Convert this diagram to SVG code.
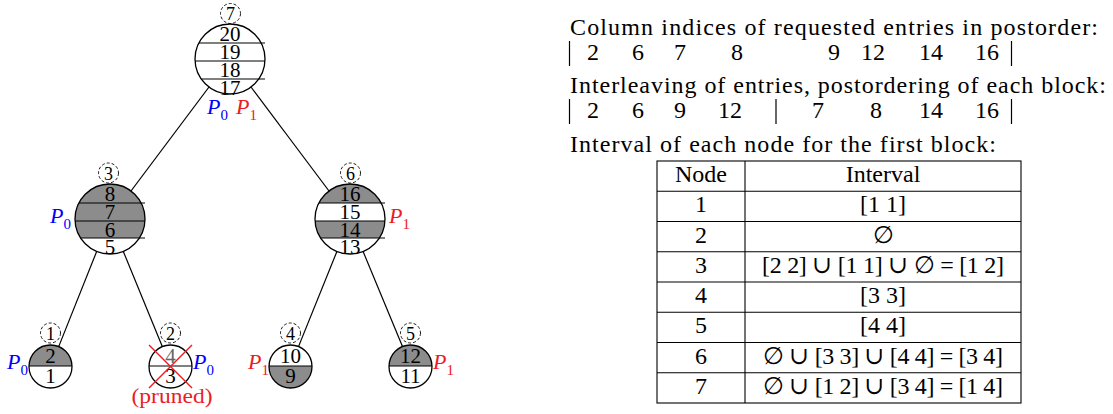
<svg xmlns="http://www.w3.org/2000/svg" width="1113" height="414" viewBox="0 0 1113 414" font-family="'Liberation Serif', 'Times New Roman', 'DejaVu Serif', serif">
<style>
text{font-family:'Liberation Serif','Times New Roman','DejaVu Serif',serif;fill:#000}
.d{font-size:21px;text-anchor:middle}
.lab{font-size:18px;text-anchor:middle}
.dash{fill:none;stroke:#000;stroke-width:0.9;stroke-dasharray:3 2}
.c{fill:none;stroke:#000;stroke-width:1.3}
.ln{stroke:#000;stroke-width:1.2}
.g{fill:#8c8c8c}
.P{font-size:22px;font-style:italic}
.sub{font-size:15px;font-style:normal}
.blue{fill:#0000ff}
.red{fill:#ec1c24}
.edge{stroke:#000;stroke-width:1.2}
.t{font-size:24px}
.tm{font-size:24px;text-anchor:middle}
.bar{stroke:#000;stroke-width:1.2}
.tb{stroke:#000;stroke-width:1.1;fill:none}
</style>
<defs>
<clipPath id="c3"><circle cx="110" cy="219" r="35"/></clipPath>
<clipPath id="c6"><circle cx="350" cy="219" r="35"/></clipPath>
<clipPath id="c1"><circle cx="50.5" cy="366.5" r="21.5"/></clipPath>
<clipPath id="c4"><circle cx="290.5" cy="366.5" r="21.5"/></clipPath>
<clipPath id="c5"><circle cx="410.5" cy="366.5" r="21.5"/></clipPath>
</defs>

<g id="connectors">
<line class="edge" x1="209" y1="87" x2="131" y2="191"/>
<line class="edge" x1="251" y1="87" x2="329" y2="191"/>
<line class="edge" x1="96.7" y1="251.4" x2="58.7" y2="346.6"/>
<line class="edge" x1="123.3" y1="251.4" x2="162.3" y2="346.6"/>
<line class="edge" x1="336.9" y1="251.5" x2="298.5" y2="346.6"/>
<line class="edge" x1="363.1" y1="251.5" x2="402.5" y2="346.6"/>
</g>

<g id="node7">
<circle class="c" cx="230" cy="59" r="35"/>
<line class="ln" x1="198.9" y1="43" x2="265" y2="43"/>
<line class="ln" x1="195.1" y1="61" x2="265" y2="61"/>
<line class="ln" x1="201.3" y1="79" x2="265" y2="79"/>
<text class="d" x="230" y="41">20</text>
<text class="d" x="230" y="59">19</text>
<text class="d" x="230" y="77">18</text>
<text class="d" x="230" y="94.5">17</text>
<circle class="dash" cx="230.5" cy="13.5" r="10"/>
<text class="lab" x="230.5" y="20">7</text>
<text class="P blue" x="207" y="114">P<tspan class="sub" dy="6">0</tspan></text>
<text class="P red" x="236" y="114">P<tspan class="sub" dy="6">1</tspan></text>
</g>

<g id="node3">
<rect class="g" x="70" y="180" width="80" height="58" clip-path="url(#c3)"/>
<circle class="c" cx="110" cy="219" r="35"/>
<line class="ln" x1="78.9" y1="203" x2="145" y2="203"/>
<line class="ln" x1="75.1" y1="221" x2="145" y2="221"/>
<line class="ln" x1="80.6" y1="238" x2="145" y2="238"/>
<text class="d" x="110" y="201">8</text>
<text class="d" x="110" y="219">7</text>
<text class="d" x="110" y="236.5">6</text>
<text class="d" x="110" y="254">5</text>
<circle class="dash" cx="108.5" cy="173" r="10"/>
<text class="lab" x="108.5" y="179.5">3</text>
<text class="P blue" x="50" y="223">P<tspan class="sub" dy="6">0</tspan></text>
</g>

<g id="node6">
<rect class="g" x="310" y="180" width="80" height="23" clip-path="url(#c6)"/>
<rect class="g" x="310" y="221" width="80" height="17" clip-path="url(#c6)"/>
<circle class="c" cx="350" cy="219" r="35"/>
<line class="ln" x1="318.9" y1="203" x2="385" y2="203"/>
<line class="ln" x1="315.1" y1="221" x2="385" y2="221"/>
<line class="ln" x1="320.6" y1="238" x2="385" y2="238"/>
<text class="d" x="350" y="201">16</text>
<text class="d" x="350" y="219">15</text>
<text class="d" x="350" y="236.5">14</text>
<text class="d" x="350" y="254">13</text>
<circle class="dash" cx="350.5" cy="173" r="10"/>
<text class="lab" x="350.5" y="179.5">6</text>
<text class="P red" x="389" y="223">P<tspan class="sub" dy="6">1</tspan></text>
</g>

<g id="node1">
<rect class="g" x="28" y="344" width="46" height="22" clip-path="url(#c1)"/>
<circle class="c" cx="50.5" cy="366.5" r="21.5"/>
<line class="ln" x1="29" y1="366" x2="72" y2="366"/>
<text class="d" x="50.5" y="363">2</text>
<text class="d" x="50.5" y="383">1</text>
<circle class="dash" cx="50.5" cy="333" r="10"/>
<text class="lab" x="50.5" y="339.5">1</text>
<text class="P blue" x="7" y="369">P<tspan class="sub" dy="6">0</tspan></text>
</g>

<g id="node2">
<circle class="c" cx="170.5" cy="366.5" r="21.5"/>
<line class="ln" x1="149" y1="366" x2="192" y2="366"/>
<text class="d" x="170.5" y="363" style="fill:#666">4</text>
<text class="d" x="170.5" y="383">3</text>
<line stroke="#ec1c24" stroke-width="1.4" x1="149" y1="345" x2="192" y2="388"/>
<line stroke="#ec1c24" stroke-width="1.4" x1="149" y1="388" x2="192" y2="345"/>
<circle class="dash" cx="170.5" cy="333" r="10"/>
<text class="lab" x="170.5" y="339.5">2</text>
<text class="P blue" x="193" y="369">P<tspan class="sub" dy="6">0</tspan></text>
<text class="red" x="172" y="403" style="font-size:21px;text-anchor:middle" textLength="81" lengthAdjust="spacingAndGlyphs">(pruned)</text>
</g>

<g id="node4">
<rect class="g" x="268" y="366" width="46" height="24" clip-path="url(#c4)"/>
<circle class="c" cx="290.5" cy="366.5" r="21.5"/>
<line class="ln" x1="269" y1="366" x2="312" y2="366"/>
<text class="d" x="290.5" y="363">10</text>
<text class="d" x="290.5" y="383">9</text>
<circle class="dash" cx="290.5" cy="333" r="10"/>
<text class="lab" x="290.5" y="339.5">4</text>
<text class="P red" x="248" y="369">P<tspan class="sub" dy="6">1</tspan></text>
</g>

<g id="node5">
<rect class="g" x="388" y="344" width="46" height="22" clip-path="url(#c5)"/>
<circle class="c" cx="410.5" cy="366.5" r="21.5"/>
<line class="ln" x1="389" y1="366" x2="432" y2="366"/>
<text class="d" x="410.5" y="363">12</text>
<text class="d" x="410.5" y="383">11</text>
<circle class="dash" cx="410.5" cy="333" r="10"/>
<text class="lab" x="410.5" y="339.5">5</text>
<text class="P red" x="433" y="369">P<tspan class="sub" dy="6">1</tspan></text>
</g>

<g id="text-block">
<text class="t" x="570" y="35" textLength="528" lengthAdjust="spacing">Column indices of requested entries in postorder:</text>
<line class="bar" x1="569.5" y1="41" x2="569.5" y2="66"/>
<text class="tm" x="593" y="60">2</text>
<text class="tm" x="638" y="60">6</text>
<text class="tm" x="680" y="60">7</text>
<text class="tm" x="737" y="60">8</text>
<text class="tm" x="834" y="60">9</text>
<text class="tm" x="873" y="60">12</text>
<text class="tm" x="931" y="60">14</text>
<text class="tm" x="987" y="60">16</text>
<line class="bar" x1="1011.5" y1="41" x2="1011.5" y2="66"/>
<text class="t" x="570" y="93" textLength="536" lengthAdjust="spacing">Interleaving of entries, postordering of each block:</text>
<line class="bar" x1="569.5" y1="99" x2="569.5" y2="124"/>
<text class="tm" x="593" y="118">2</text>
<text class="tm" x="638" y="118">6</text>
<text class="tm" x="680" y="118">9</text>
<text class="tm" x="730" y="118">12</text>
<line class="bar" x1="776" y1="99" x2="776" y2="124"/>
<text class="tm" x="818" y="118">7</text>
<text class="tm" x="876" y="118">8</text>
<text class="tm" x="931" y="118">14</text>
<text class="tm" x="987" y="118">16</text>
<line class="bar" x1="1011.5" y1="99" x2="1011.5" y2="124"/>
<text class="t" x="570" y="152" textLength="426" lengthAdjust="spacing">Interval of each node for the first block:</text>
</g>

<g id="table">
<rect class="tb" x="657" y="161" width="364" height="242"/>
<line class="tb" x1="745" y1="161" x2="745" y2="403"/>
<line class="tb" x1="657" y1="191.25" x2="1021" y2="191.25"/>
<line class="tb" x1="657" y1="221.5" x2="1021" y2="221.5"/>
<line class="tb" x1="657" y1="251.75" x2="1021" y2="251.75"/>
<line class="tb" x1="657" y1="282" x2="1021" y2="282"/>
<line class="tb" x1="657" y1="312.25" x2="1021" y2="312.25"/>
<line class="tb" x1="657" y1="342.5" x2="1021" y2="342.5"/>
<line class="tb" x1="657" y1="372.75" x2="1021" y2="372.75"/>
<text class="tm" x="701" y="182">Node</text>
<text class="tm" x="883" y="182">Interval</text>
<text class="tm" x="701" y="212">1</text>
<text class="tm" x="883" y="212">[1 1]</text>
<text class="tm" x="701" y="242.5">2</text>
<text class="tm" x="883" y="242.5">∅</text>
<text class="tm" x="701" y="272.5">3</text>
<text class="tm" x="883" y="272.5" textLength="242" lengthAdjust="spacing">[2 2] ∪ [1 1] ∪ ∅ = [1 2]</text>
<text class="tm" x="701" y="303">4</text>
<text class="tm" x="883" y="303">[3 3]</text>
<text class="tm" x="701" y="333">5</text>
<text class="tm" x="883" y="333">[4 4]</text>
<text class="tm" x="701" y="363.5">6</text>
<text class="tm" x="883" y="363.5" textLength="240" lengthAdjust="spacing">∅ ∪ [3 3] ∪ [4 4] = [3 4]</text>
<text class="tm" x="701" y="394">7</text>
<text class="tm" x="883" y="394" textLength="240" lengthAdjust="spacing">∅ ∪ [1 2] ∪ [3 4] = [1 4]</text>
</g>
</svg>
